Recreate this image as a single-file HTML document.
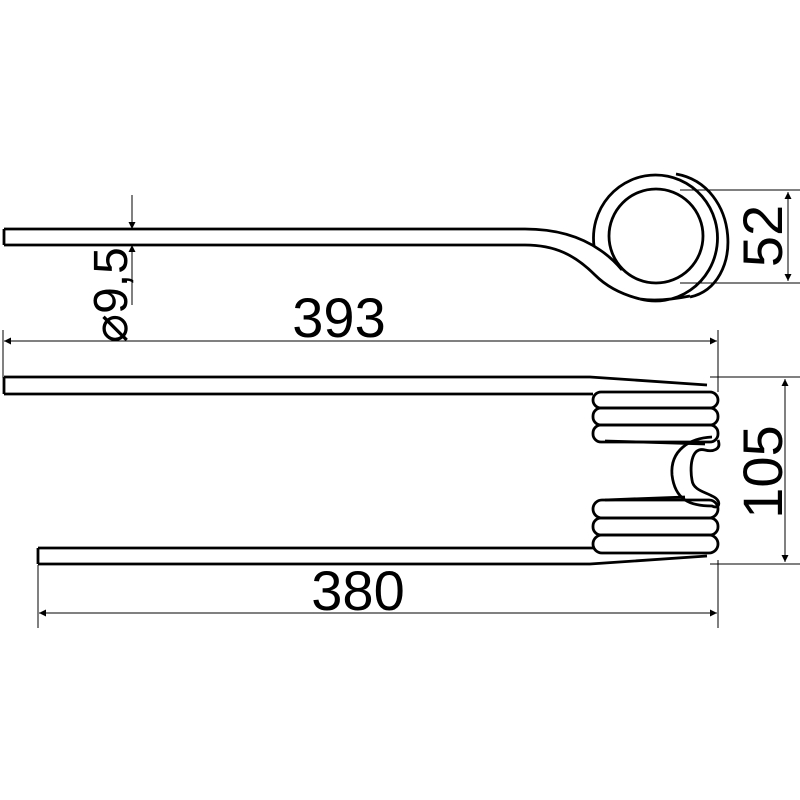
<!DOCTYPE html>
<html><head><style>html,body{margin:0;padding:0;background:#fff}svg{display:block}</style></head>
<body>
<svg width="800" height="800" viewBox="0 0 800 800" xmlns="http://www.w3.org/2000/svg">
<defs>
<marker id="a" viewBox="0 0 10 10" refX="10" refY="5" markerWidth="16" markerHeight="7" markerUnits="userSpaceOnUse" orient="auto-start-reverse"><path d="M0,0L10,5L0,10z" fill="#000"/></marker>
</defs>
<g fill="none" stroke="#000" stroke-width="2.8">
<path d="M4,229 H525 C555,229 580,236 600,250 Q612,258 622,270"/>
<path d="M4,245 H525 C555,245 575,255 595,275 Q612,292 640,299 "/>
<path d="M4,229 V245"/>
<circle cx="656" cy="236" r="47"/>
<path d="M594,246 A62,63 0 1 1 640,299 Q660,302 690,296"/>
<path d="M676,174 C740,185 745,285 690,297"/>
<path d="M4,377 H590 L707,385"/>
<path d="M4,394 H593"/>
<path d="M4,377 V394"/>
<path d="M38,548 H595"/>
<path d="M38,564 H590 L707,556"/>
<path d="M38,548 V564"/>
<rect x="593" y="392" width="125" height="16" rx="8"/>
<rect x="593" y="408" width="125" height="17" rx="8"/>
<rect x="593" y="425" width="125" height="17" rx="8"/>
<path d="M605,441 L705,444"/>
<path d="M718,440 C722,450 712,452 705,450 C690,446 690,470 692,480 C693,490 705,492 712,496 C722,500 720,510 712,506 C690,506 675,500 672,475 C670,450 690,438 712,437"/>
<rect x="593" y="500" width="125" height="18" rx="9"/>
<rect x="593" y="518" width="125" height="17" rx="8"/>
<rect x="593" y="535" width="125" height="18" rx="9"/>
<path d="M605,500 L685,497"/>
</g>
<g stroke="#000" stroke-width="1" fill="none">
<path d="M680,190 H800 M680,283 H800"/>
<path d="M788,192 V281" marker-start="url(#a)" marker-end="url(#a)"/>
<path d="M132,195 V229" marker-end="url(#a)"/>
<path d="M132,305 V245" marker-end="url(#a)"/>
<path d="M3,330 V378 M718,330 V392"/>
<path d="M4,341 H717" marker-start="url(#a)" marker-end="url(#a)"/>
<path d="M710,377 H800 M710,564 H800"/>
<path d="M785,379 V562" marker-start="url(#a)" marker-end="url(#a)"/>
<path d="M38,565 V628 M718,560 V628"/>
<path d="M39,613 H717" marker-start="url(#a)" marker-end="url(#a)"/>
</g>
<g font-family="Liberation Sans, sans-serif" font-size="56" fill="#000">
<text x="339" y="337" text-anchor="middle">393</text>
<text x="358" y="610" text-anchor="middle">380</text>
<text transform="translate(782,236) rotate(-90)" text-anchor="middle">52</text>
<text transform="translate(782,472) rotate(-90)" text-anchor="middle">105</text>
<text transform="translate(127,295) rotate(-90)" text-anchor="middle" font-size="48">⌀9,5</text>
</g>
</svg>
</body></html>
